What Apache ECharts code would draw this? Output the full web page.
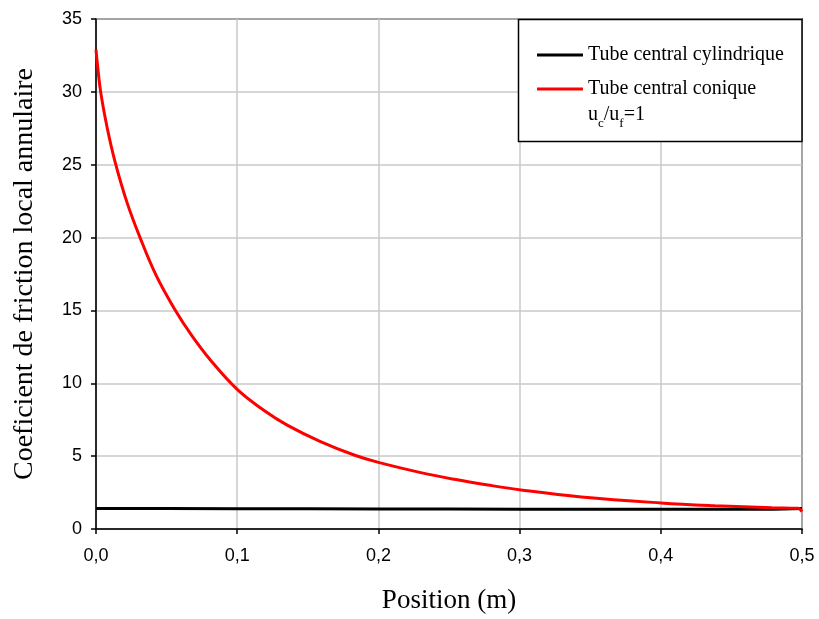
<!DOCTYPE html>
<html>
<head>
<meta charset="utf-8">
<script src="https://cdn.jsdelivr.net/npm/echarts@6/dist/echarts.min.js"></script>
<style>html,body{margin:0;padding:0;background:#fff}#c{width:819px;height:619px}</style>
</head>
<body>
<div id="c"></div>
<script>
// Data
const xTickLabels = ['0,0', '0,1', '0,2', '0,3', '0,4', '0,5'];
const cylX = [0, 0.05, 0.1, 0.15, 0.2, 0.25, 0.3, 0.35, 0.4, 0.45, 0.48, 0.5];
const cylY = [1.40, 1.40, 1.39, 1.39, 1.38, 1.37, 1.36, 1.35, 1.35, 1.35, 1.36, 1.40];
const conX = [0, 0.001, 0.0033, 0.008, 0.0135, 0.022, 0.0312, 0.0426, 0.0556, 0.068, 0.081, 0.1, 0.1188, 0.1354, 0.159, 0.1828, 0.2, 0.23, 0.2538, 0.2775, 0.301, 0.3437, 0.4, 0.4384, 0.4787, 0.497, 0.5];
const conY = [32.9, 31.9, 30.0, 27.5, 25.2, 22.4, 20.0, 17.4, 15.1, 13.25, 11.6, 9.58, 8.15, 7.13, 6.0, 5.08, 4.57, 3.87, 3.41, 3.02, 2.68, 2.2, 1.79, 1.60, 1.46, 1.42, 1.19];
const seriesNames = ['Tube central cylindrique', 'Tube central conique', 'uc/uf=1'];

const serif = 'Liberation Serif';
const sans = 'Liberation Sans';

const chart = echarts.init(document.getElementById('c'), null, {renderer: 'canvas'});
const zip = (xs, ys) => xs.map((x, i) => [x, ys[i]]);

const legendBase = {
  orient: 'vertical', left: 532, selectedMode: false,
  icon: 'rect', itemWidth: 46, itemHeight: 3, itemGap: 10,
  textStyle: {fontFamily: serif, fontSize: 20, color: '#000', padding: [6, 0, 0, 0]}
};

chart.setOption({
  animation: false,
  backgroundColor: '#fff',
  grid: {left: 96, right: 17, top: 19, bottom: 90, show: true, borderColor: '#000', borderWidth: 1.5, backgroundColor: 'transparent'},
  xAxis: {
    type: 'value', min: 0, max: 0.5, interval: 0.1,
    name: 'Position (m)', nameLocation: 'middle', nameGap: 58,
    nameTextStyle: {fontFamily: serif, fontSize: 27, color: '#000'},
    axisLine: {show: true, lineStyle: {color: '#000', width: 1.5}},
    axisTick: {show: true, length: 5, inside: false, lineStyle: {color: '#000', width: 1.5}},
    axisLabel: {fontFamily: sans, fontSize: 18, color: '#000', margin: 18,
      formatter: v => xTickLabels[Math.round(v * 10)]},
    splitLine: {show: true, lineStyle: {color: '#c8c8c8', width: 1.5}}
  },
  yAxis: {
    type: 'value', min: 0, max: 35, interval: 5,
    name: 'Coeficient de friction local annulaire', nameLocation: 'middle', nameGap: 57,
    nameTextStyle: {fontFamily: serif, fontSize: 28, color: '#000'},
    axisLine: {show: true, lineStyle: {color: '#000', width: 1.5}},
    axisTick: {show: true, length: 5, inside: false, lineStyle: {color: '#000', width: 1.5}},
    axisLabel: {fontFamily: sans, fontSize: 18, color: '#000', margin: 14},
    splitLine: {show: true, lineStyle: {color: '#c8c8c8', width: 1.5}}
  },
  graphic: [{
    type: 'rect', z: 3,
    shape: {x: 518.5, y: 19.5, width: 283.5, height: 122},
    style: {fill: '#fff', stroke: '#000', lineWidth: 1.5}
  }],
  legend: [
    Object.assign({}, legendBase, {top: 40, data: [seriesNames[0]]}),
    Object.assign({}, legendBase, {top: 74, data: [seriesNames[1]]}),
    Object.assign({}, legendBase, {top: 100, data: [seriesNames[2]],
      formatter: () => '{n|u}{s|c}{n|/u}{s|f}{n|=1}',
      textStyle: {fontFamily: serif, fontSize: 20, color: '#000',
        rich: {
          n: {fontFamily: serif, fontSize: 20, color: '#000', verticalAlign: 'bottom', lineHeight: 20, padding: [0, 0, 5, 0]},
          s: {fontFamily: serif, fontSize: 13, color: '#000', verticalAlign: 'bottom', lineHeight: 13}
        }}})
  ],
  series: [
    {name: seriesNames[0], type: 'line', data: zip(cylX, cylY), showSymbol: false, symbol: 'none',
      color: '#000', lineStyle: {color: '#000', width: 3}, z: 2},
    {name: seriesNames[1], type: 'line', data: zip(conX, conY), showSymbol: false, symbol: 'none',
      smooth: 0.4,
      color: '#ff0000', lineStyle: {color: '#ff0000', width: 3}, z: 2},
    {name: seriesNames[2], type: 'line', data: [], symbol: 'none', color: 'rgba(0,0,0,0)'}
  ]
});
</script>
</body>
</html>
